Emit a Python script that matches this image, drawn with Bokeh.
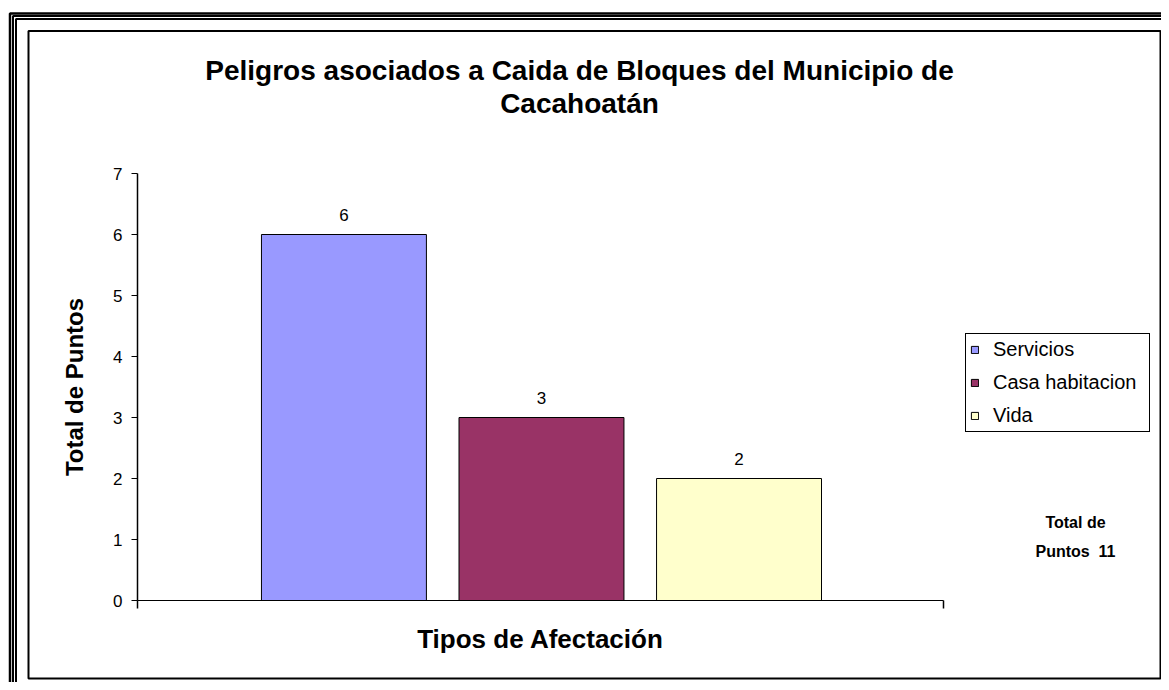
from bokeh.plotting import figure
from bokeh.models import (ColumnDataSource, Range1d, FixedTicker, Label, BoxAnnotation,
                          Legend, LegendItem, LinearAxis)
from bokeh.core.properties import value
from bokeh.embed import file_html
from bokeh.resources import INLINE

# ---------------- data ----------------
categories = ["Servicios", "Casa habitacion", "Vida"]
values = [6, 3, 2]
colors = ["#9999FF", "#993366", "#FFFFCC"]
y_ticks = [0, 1, 2, 3, 4, 5, 6, 7]
title_lines = ["Peligros asociados a Caida de Bloques del Municipio de", "Cacahoatán"]
x_title = "Tipos de Afectación"
y_title = "Total de Puntos"
total_lines = ["Total de", "Puntos\u00a0 11"]

# ---------------- layout constants ----------------
W, H = 1161, 682
FONT = "Liberation Sans"
# plot area (axes box) in canvas pixels
PL, PR, PT, PB = 137, 943, 173, 600
X0, X1 = -1.045, 3.035          # category axis extent (bar index units)
Y0, Y1 = 0, 7
BAR_W = 0.835

SX = (PR - PL) / (X1 - X0)
SY = (PB - PT) / (Y1 - Y0)


def cx(px):
    return X0 + (px - PL) / SX


def cy(py):
    return Y0 + (PB - py) / SY


xs = list(range(len(categories)))
src = ColumnDataSource(dict(x=xs, top=values, color=colors, name=categories,
                            label=[str(v) for v in values]))

p = figure(width=W, height=H, output_backend="svg", toolbar_location=None,
           x_range=Range1d(cx(0), cx(W)), y_range=Range1d(cy(H), cy(0)),
           min_border=0, x_axis_type=None, y_axis_type=None)
p.outline_line_color = None
p.background_fill_color = "white"
p.border_fill_color = "white"

yax = LinearAxis(ticker=FixedTicker(ticks=y_ticks), axis_label=y_title,
                 fixed_location=X0, bounds=(Y0, Y1),
                 axis_label_text_font=FONT, axis_label_text_font_style="bold",
                 axis_label_text_font_size="24px", axis_label_text_color="black",
                 major_label_text_font=FONT, major_label_text_font_size="17px",
                 major_label_text_color="black",
                 major_tick_in=0, major_tick_out=6, minor_tick_in=0, minor_tick_out=0,
                 axis_line_width=1.5, axis_line_color="black", major_tick_line_color="black",
                 major_label_standoff=9, axis_label_standoff=22)
p.add_layout(yax, "left")

xax = LinearAxis(ticker=FixedTicker(ticks=[X0, X1]), axis_label=x_title,
                 fixed_location=Y0, bounds=(X0, X1),
                 axis_label_text_font=FONT, axis_label_text_font_style="bold",
                 axis_label_text_font_size="26px", axis_label_text_color="black",
                 major_label_text_font_size="1px", major_label_text_color=None,
                 major_tick_in=0, major_tick_out=8, minor_tick_in=0, minor_tick_out=0,
                 axis_line_width=1, axis_line_color="black", major_tick_line_color="black",
                 major_tick_line_width=1.5,
                 major_label_standoff=0, axis_label_standoff=15)
p.add_layout(xax, "below")

r = p.vbar(x="x", top="top", bottom=0, width=BAR_W, fill_color="color",
           line_color="black", line_width=1, source=src)

p.text(x="x", y="top", text="label", source=src, text_align="center",
       text_baseline="middle", y_offset=-20, text_font=value(FONT),
       text_font_size="17px", text_color="black")

legend = Legend(items=[LegendItem(label=c, renderers=[r], index=i) for i, c in enumerate(categories)],
                location=(965, H - 432), orientation="vertical",
                border_line_color="black", border_line_width=1, border_line_alpha=1,
                background_fill_color="white", background_fill_alpha=1,
                padding=4, spacing=10, glyph_width=9, glyph_height=9,
                label_height=20, label_width=152, label_standoff=14, margin=0,
                label_text_font=FONT, label_text_font_size="20px", label_text_color="black")
p.add_layout(legend, "center")

# title (two lines)
for txt, yy in zip(title_lines, [70, 103]):
    p.add_layout(Label(x=cx(579), y=cy(yy), text=txt,
                       text_align="center", text_baseline="middle", text_font=FONT,
                       text_font_size="28px", text_font_style="bold", text_color="black"))

# total annotation
for txt, yy in zip(total_lines, [522, 551]):
    p.add_layout(Label(x=cx(1075), y=cy(yy), text=txt,
                       text_align="center", text_baseline="middle", text_font=FONT,
                       text_font_size="16px", text_font_style="bold", text_color="black"))


# decorative frames (canvas pixels -> data coords)
def frame_box(l, t, rgt, b, lw):
    return BoxAnnotation(left=cx(l), right=cx(rgt), top=cy(t), bottom=cy(b),
                         fill_color=None, fill_alpha=0, line_color="black",
                         line_width=lw, line_alpha=1)


p.add_layout(frame_box(28, 30.5, 1160, 678, 2))
p.add_layout(frame_box(9.5, 13, 1300, 800, 2.5))
p.add_layout(frame_box(12.5, 15.5, 1300, 800, 2))
p.add_layout(frame_box(15.5, 18.5, 1300, 800, 2))

open("out.html", "w").write(file_html(p, INLINE))
